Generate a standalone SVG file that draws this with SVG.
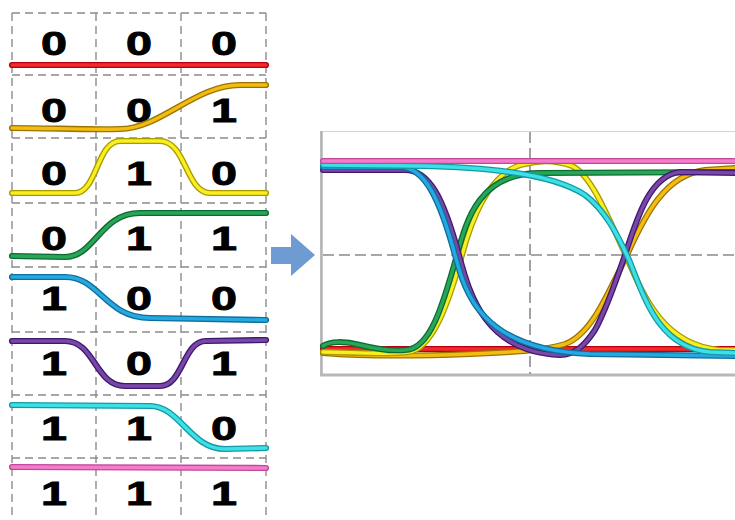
<svg xmlns="http://www.w3.org/2000/svg" xmlns:xlink="http://www.w3.org/1999/xlink" width="735" height="520" viewBox="0 0 735 520">
<style>
.grid{stroke:#8c8c8c;stroke-width:1.4;stroke-dasharray:8 5;fill:none}
.edash{stroke:#8a8a8a;stroke-width:1.6;stroke-dasharray:11 5;fill:none}
.d{font-family:"Liberation Sans",Arial,sans-serif;font-weight:bold;font-size:33px;fill:#000;stroke:#000;stroke-width:0.9;text-anchor:middle}
use{fill:none;stroke-linecap:round;stroke-linejoin:round}
.L .o{stroke-width:6.2}
.L .c{stroke-width:3.4}
.E .o{stroke-width:6}
.E .c{stroke-width:3.4}
.red .o{stroke:#b80010}.red .c{stroke:#f22a2a}
.orn .o{stroke:#9a7400}.orn .c{stroke:#f2bc10}
.yel .o{stroke:#a89a00}.yel .c{stroke:#f8ee20}
.grn .o{stroke:#0e6a32}.grn .c{stroke:#26a656}
.blu .o{stroke:#0e6e9c}.blu .c{stroke:#26a8e0}
.pur .o{stroke:#40186e}.pur .c{stroke:#7848a8}
.cyn .o{stroke:#139aa6}.cyn .c{stroke:#3ee0e6}
.pnk .o{stroke:#c2489a}.pnk .c{stroke:#f47ccc}
</style>
<defs>
<path id="l1" d="M12,65 L266,65"/>
<path id="l2" d="M12,128 C50,128 90,130 120,129 C160,129 195,85 240,85 L266,85"/>
<path id="l3" d="M12,193 L75,193 C97,193 97,141 120,141 L160,141 C186,141 186,193 210,193 L266,193"/>
<path id="l4" d="M12,256 L65,257 C95,257 100,213 140,213 L266,213"/>
<path id="l5" d="M12,277 L65,277 C100,277 105,318 150,318 L266,320"/>
<path id="l6" d="M12,341 L65,341 C95,341 95,386 125,386 L160,386 C183,386 183,341 206,341 L266,340"/>
<path id="l7" d="M12,405 L150,406 C180,406 190,449 225,449 L266,448"/>
<path id="l8" d="M12,467 L266,468"/>
<path id="e1" d="M323,349 L735,349"/>
<path id="e2" d="M323,353 C360,356 420,356 470,354 C520,352 545,350 565,344 C590,335 605,300 627,255 C645,215 665,175 705,170 L735,168"/>
<path id="e3" d="M323,352 C350,352 380,355 408,352 C432,350 448,305 462,255 C472,218 490,170 525,164 C540,160 556,160 572,166 C590,174 605,210 627,258 C645,300 665,345 720,350 L735,350"/>
<path id="e4" d="M323,346 C330,341 345,341 360,345 C380,350 395,351 405,350 C430,350 443,305 457,255 C467,218 480,173 540,173 L735,172"/>
<path id="e5" d="M323,170 L405,170 C430,170 444,200 459,255 C469,292 484,352 560,355 C575,355 585,345 595,330 C605,312 613,290 625,255 C637,218 650,175 680,172 L735,173"/>
<path id="e6" d="M323,167 L400,167 C425,167 440,200 455,255 C465,292 480,350 590,354 L735,356"/>
<path id="e7" d="M323,165 L420,166 C480,167 550,172 585,195 C605,210 618,235 630,262 C645,300 660,348 710,352 L735,353"/>
<path id="e8" d="M323,161 L735,161"/>
</defs>

<g id="grid">
<path class="grid" d="M12,13 H266 M12,75 H266 M12,138 H266 M12,203 H266 M12,267 H266 M12,332 H266 M12,395 H266 M12,458 H266"/>
<path class="grid" d="M12,13 V520 M96,13 V520 M181,13 V520 M266,13 V520"/>
</g>

<g id="row-000">
<text class="d" x="54" y="55" textLength="26" lengthAdjust="spacingAndGlyphs">0</text>
<text class="d" x="139" y="55" textLength="26" lengthAdjust="spacingAndGlyphs">0</text>
<text class="d" x="224" y="55" textLength="26" lengthAdjust="spacingAndGlyphs">0</text>
<g class="L red"><use href="#l1" class="o"/><use href="#l1" class="c"/></g>
</g>
<g id="row-001">
<text class="d" x="54" y="122" textLength="26" lengthAdjust="spacingAndGlyphs">0</text>
<text class="d" x="139" y="122" textLength="26" lengthAdjust="spacingAndGlyphs">0</text>
<text class="d" x="224" y="122" textLength="26" lengthAdjust="spacingAndGlyphs">1</text>
<g class="L orn"><use href="#l2" class="o"/><use href="#l2" class="c"/></g>
</g>
<g id="row-010">
<text class="d" x="54" y="185" textLength="26" lengthAdjust="spacingAndGlyphs">0</text>
<text class="d" x="139" y="185" textLength="26" lengthAdjust="spacingAndGlyphs">1</text>
<text class="d" x="224" y="185" textLength="26" lengthAdjust="spacingAndGlyphs">0</text>
<g class="L yel"><use href="#l3" class="o"/><use href="#l3" class="c"/></g>
</g>
<g id="row-011">
<text class="d" x="54" y="250" textLength="26" lengthAdjust="spacingAndGlyphs">0</text>
<text class="d" x="139" y="250" textLength="26" lengthAdjust="spacingAndGlyphs">1</text>
<text class="d" x="224" y="250" textLength="26" lengthAdjust="spacingAndGlyphs">1</text>
<g class="L grn"><use href="#l4" class="o"/><use href="#l4" class="c"/></g>
</g>
<g id="row-100">
<text class="d" x="54" y="310" textLength="26" lengthAdjust="spacingAndGlyphs">1</text>
<text class="d" x="139" y="310" textLength="26" lengthAdjust="spacingAndGlyphs">0</text>
<text class="d" x="224" y="310" textLength="26" lengthAdjust="spacingAndGlyphs">0</text>
<g class="L blu"><use href="#l5" class="o"/><use href="#l5" class="c"/></g>
</g>
<g id="row-101">
<text class="d" x="54" y="375" textLength="26" lengthAdjust="spacingAndGlyphs">1</text>
<text class="d" x="139" y="375" textLength="26" lengthAdjust="spacingAndGlyphs">0</text>
<text class="d" x="224" y="375" textLength="26" lengthAdjust="spacingAndGlyphs">1</text>
<g class="L pur"><use href="#l6" class="o"/><use href="#l6" class="c"/></g>
</g>
<g id="row-110">
<text class="d" x="54" y="440" textLength="26" lengthAdjust="spacingAndGlyphs">1</text>
<text class="d" x="139" y="440" textLength="26" lengthAdjust="spacingAndGlyphs">1</text>
<text class="d" x="224" y="440" textLength="26" lengthAdjust="spacingAndGlyphs">0</text>
<g class="L cyn"><use href="#l7" class="o"/><use href="#l7" class="c"/></g>
</g>
<g id="row-111">
<text class="d" x="54" y="505" textLength="26" lengthAdjust="spacingAndGlyphs">1</text>
<text class="d" x="139" y="505" textLength="26" lengthAdjust="spacingAndGlyphs">1</text>
<text class="d" x="224" y="505" textLength="26" lengthAdjust="spacingAndGlyphs">1</text>
<g class="L pnk"><use href="#l8" class="o"/><use href="#l8" class="c"/></g>
</g>

<g id="arrow">
<path d="M271,247 L291,247 L291,234 L315,255 L291,276 L291,264 L271,264 Z" fill="#6e9bd2"/>
</g>

<g id="eye">
<rect x="320.5" y="131.5" width="420" height="244" fill="#fff" stroke="#d4d4d4" stroke-width="1"/>
<line x1="321.5" y1="131" x2="321.5" y2="376" stroke="#b4b4b4" stroke-width="2.5"/>
<line x1="320" y1="375" x2="735" y2="375" stroke="#b8b8b8" stroke-width="3"/>
<path class="edash" d="M530,132 V374 M323,255 H735"/>
<g class="E red"><use href="#e1" class="o"/><use href="#e1" class="c"/></g>
<g class="E orn"><use href="#e2" class="o"/><use href="#e2" class="c"/></g>
<g class="E yel"><use href="#e3" class="o"/><use href="#e3" class="c"/></g>
<g class="E grn"><use href="#e4" class="o"/><use href="#e4" class="c"/></g>
<g class="E pur"><use href="#e5" class="o"/><use href="#e5" class="c"/></g>
<g class="E blu"><use href="#e6" class="o"/><use href="#e6" class="c"/></g>
<g class="E cyn"><use href="#e7" class="o"/><use href="#e7" class="c"/></g>
<g class="E pnk"><use href="#e8" class="o"/><use href="#e8" class="c"/></g>
</g>
</svg>
